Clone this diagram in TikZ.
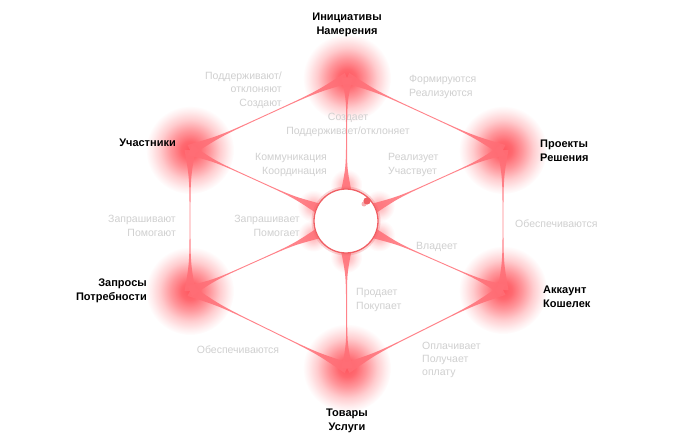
\documentclass[tikz,border=0pt]{standalone}
\usepackage{fontspec}
\setmainfont{Liberation Sans}
\usetikzlibrary{calc,fadings}
\definecolor{glowred}{RGB}{255,88,96}
\definecolor{edgecol}{RGB}{255,110,118}
\definecolor{ringred}{RGB}{240,95,100}
\definecolor{lbl}{RGB}{208,208,208}
\pgfdeclareradialshading{glowshade}{\pgfpointorigin}{color(0bp)=(white); color(5bp)=(black!10); color(11bp)=(black!38); color(17bp)=(black!70); color(22bp)=(black!90); color(25bp)=(black); color(50bp)=(black)}
\pgfdeclarefading{glowfade}{\pgfuseshading{glowshade}}
\newcommand\taper[4]{%
\fill[edgecol, opacity=0.85] ($(#1)!#3!90:(#2)$)
 .. controls ($($(#1)!0.2!(#2)$)!0.5pt!90:(#2)$) .. ($($(#1)!0.5!(#2)$)!0.45pt!90:(#2)$)
 .. controls ($($(#1)!0.8!(#2)$)!0.5pt!90:(#2)$) .. ($(#2)!#4!-90:(#1)$)
 -- ($(#2)!#4!90:(#1)$)
 .. controls ($($(#1)!0.8!(#2)$)!0.5pt!-90:(#2)$) .. ($($(#1)!0.5!(#2)$)!0.45pt!-90:(#2)$)
 .. controls ($($(#1)!0.2!(#2)$)!0.5pt!-90:(#2)$) .. ($(#1)!#3!-90:(#2)$) -- cycle;}
\tikzset{
  bold/.style={font=\fontsize{11}{13.5}\selectfont\bfseries, text=black, inner sep=0pt},
  glbl/.style={font=\fontsize{10.5}{13.3}\selectfont, text=lbl, inner sep=0pt},
  glow/.style={fill=glowred, path fading=glowfade}
}
\begin{document}
\begin{tikzpicture}[x=1pt,y=-1pt]
\useasboundingbox (0,0) rectangle (683,444);
\fill[white] (0,0) rectangle (683,444);
% vertices
\coordinate (T) at (347,78);
\coordinate (UR) at (503,150);
\coordinate (LR) at (503,290);
\coordinate (B) at (347,368);
\coordinate (LL) at (190,291);
\coordinate (UL) at (190,150);
\coordinate (C) at (346,221);
% glows
\foreach \v in {T,UR,LR,B,LL,UL}{\fill[glow] (\v) circle[radius=44pt];}
% labels (gray)
\node[glbl, anchor=east, align=right] (g1) at (282,90) {Поддерживают/\\отклоняют\\Создают};
\node[glbl, anchor=west, align=left] (g2) at (409,87) {Формируются\\Реализуются};
\node[glbl, align=center] (g3) at (348,125) {Создает\\Поддерживает/отклоняет};
\node[glbl, anchor=east, align=right] (g4) at (327,165) {Коммуникация\\Координация};
\node[glbl, anchor=west, align=left] (g5) at (388,165) {Реализует\\Участвует};
\node[glbl, anchor=east, align=right] (g6) at (176,226) {Запрашивают\\Помогают};
\node[glbl, anchor=east, align=right] (g7) at (300,226) {Запрашивает\\Помогает};
\node[glbl, anchor=west] (g8) at (515,224) {Обеспечиваются};
\node[glbl, anchor=west] (g9) at (416,247) {Владеет};
\node[glbl, anchor=west, align=left] (g10) at (356,300) {Продает\\Покупает};
\node[glbl, anchor=west, align=left] (g11) at (422,360) {Оплачивает\\Получает\\оплату};
\node[glbl] (g12) at (238,350) {Обеспечиваются};
% spoke start points on the ring
\foreach \v in {T,UR,LR,B,LL,UL}{\coordinate (c\v) at ($(C)!31pt!(\v)$);}
% soft glow at spoke roots
\foreach \v in {T,UR,LR,B,LL,UL}{\fill[glow, opacity=0.45] ($(C)!36pt!(\v)$) circle[radius=16pt];}
% hexagon edges
\taper{T}{UR}{5.5pt}{5.5pt}
\taper{UR}{LR}{5.5pt}{5.5pt}
\taper{LR}{B}{5.5pt}{5.5pt}
\taper{B}{LL}{5.5pt}{5.5pt}
\taper{LL}{UL}{5.5pt}{5.5pt}
\taper{UL}{T}{5.5pt}{5.5pt}
% spokes
\foreach \v in {T,UR,LR,B,LL,UL}{\taper{c\v}{\v}{5pt}{5.5pt}}
% ring
\draw[ringred, opacity=0.25, line width=4pt] (C) circle[radius=32.5pt];
\node[circle, draw=ringred, line width=1.3pt, fill=white, minimum size=64pt, inner sep=0pt] (c) at (C) {};
\fill[ringred] ($(C)+(21,-20)$) circle[radius=3.6pt];
\fill[ringred, opacity=0.5] ($(C)+(18,-17)$) circle[radius=2.5pt];
% bold labels
\node[bold, align=center] (init) at (347,25) {Инициативы\\Намерения};
\node[bold, anchor=west, align=left] (proj) at (540,151) {Проекты\\Решения};
\node[bold, anchor=west, align=left] (acc) at (543,297) {Аккаунт\\Кошелек};
\node[bold, align=center] (goods) at (347,421) {Товары\\Услуги};
\node[bold, anchor=east, align=right] (req) at (147,291) {Запросы\\Потребности};
\node[bold, anchor=east] (part) at (176,143) {Участники};
\end{tikzpicture}
\end{document}
